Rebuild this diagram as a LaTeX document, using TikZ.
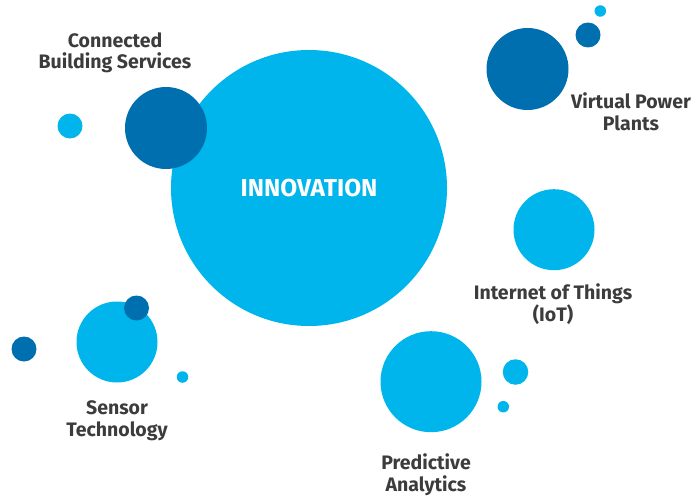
\documentclass[tikz,border=0pt]{standalone}
\usepackage{fontspec}
\setsansfont{Fira Sans}
\definecolor{lightblue}{HTML}{00B5EC}
\definecolor{darkblue}{HTML}{006FAF}
\definecolor{textgrey}{HTML}{3C3C3C}
\tikzset{
  bubble/.style={circle,inner sep=0pt,minimum size=#1},
  light/.style={bubble=#1,fill=lightblue},
  dark/.style={bubble=#1,fill=darkblue},
  label text/.style={align=center,text=textgrey,inner sep=0pt,
    font=\sffamily\bfseries\fontsize{19.5}{21.5}\selectfont},
}

\begin{document}
\begin{tikzpicture}[x=1pt,y=-1pt]
\useasboundingbox (0,0) rectangle (695,495);
% big centre
\node[light=276pt] (innovation) at (309,188) {};
\node[text=white,font=\sffamily\bfseries\fontsize{24.5}{27}\selectfont] at (innovation) {INNOVATION};
% connected building services
\node[dark=82pt] (cbs) at (166,128) {};
\node[light=25pt] (cbs small) at (70,126) {};
\node[label text] (cbs label) at (115,53) {Connected\\Building Services};
% virtual power plants
\node[dark=82pt] (vpp) at (527.5,69) {};
\node[dark=25pt] (vpp small) at (588,35) {};
\node[light=11.5pt] (vpp tiny) at (600.3,11) {};
\node[label text] (vpp label) at (631,112) {Virtual Power\\Plants};
% internet of things
\node[light=81pt] (iot) at (554,229.7) {};
\node[label text] (iot label) at (553,304) {Internet of Things\\(IoT)};
% sensor technology
\node[light=81pt] (sensor) at (117,342) {};
\node[dark=25pt] (sensor small) at (136.5,308) {};
\node[dark=25pt] (sensor left) at (24,349) {};
\node[light=11.5pt] (sensor tiny) at (182.5,377) {};
\node[label text] (sensor label) at (117,420.5) {Sensor\\Technology};
% predictive analytics
\node[light=101pt] (pa) at (431,381.7) {};
\node[light=25.5pt] (pa small) at (515.5,372) {};
\node[light=11.5pt] (pa tiny) at (503.3,406.7) {};
\node[label text] (pa label) at (426,474.5) {Predictive\\Analytics};
\end{tikzpicture}
\end{document}
